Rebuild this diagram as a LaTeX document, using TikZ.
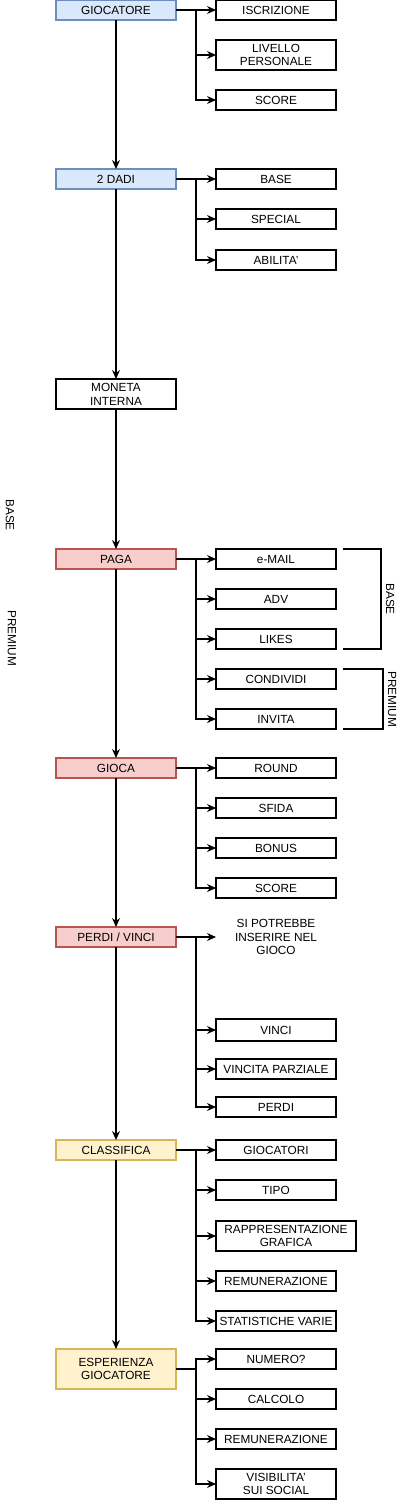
\documentclass[tikz,border=0pt]{standalone}
\usepackage{fontspec}
\setmainfont{Liberation Sans}
\usepackage{xcolor}
\usepackage{tikz}
\usetikzlibrary{arrows.meta, positioning}
\definecolor{blueFill}{HTML}{DAE8FC}
\definecolor{blueLine}{HTML}{6C8EBF}
\definecolor{redFill}{HTML}{F8CECC}
\definecolor{redLine}{HTML}{B85450}
\definecolor{yellowFill}{HTML}{FFF2CC}
\definecolor{yellowLine}{HTML}{D6B656}
\tikzstyle{mainbox} = [rectangle, minimum width=120pt, minimum height=20pt, inner xsep=1pt, inner ysep=2pt, outer sep=0pt, align=center, draw=black, line width=1.1pt, font=\fontsize{11.8}{13.8}\selectfont]
\tikzstyle{subbox} = [rectangle, minimum width=120pt, minimum height=20pt, inner xsep=1pt, inner ysep=2pt, outer sep=0pt, align=center, draw=black, line width=1.1pt, font=\fontsize{11.8}{13.8}\selectfont]
\tikzstyle{note} = [rectangle, minimum width=120pt, inner sep=2pt, outer sep=0pt, align=center, font=\fontsize{11.8}{13.8}\selectfont]
\tikzstyle{sidelabel} = [rotate=-90, inner sep=2pt, outer sep=0pt, font=\fontsize{11.8}{13.8}\selectfont]
\tikzstyle{arrow} = [line width=1.1pt, -{Stealth[length=9pt, width=8pt, inset=3pt]}]
\tikzstyle{bracket} = [line width=2.2pt]

\begin{document}
\begin{tikzpicture}
    \useasboundingbox (0,0) rectangle (403pt,-1501pt);

    % Main flow
    \node[mainbox, fill=blueFill, draw=blueLine] (giocatore) at (116pt,-10pt) {GIOCATORE};
    \node[mainbox, fill=blueFill, draw=blueLine, below=149pt of giocatore] (dadi) {2 DADI};
    \node[mainbox, minimum height=30pt, below=190pt of dadi] (moneta) {MONETA\\INTERNA};
    \node[mainbox, fill=redFill, draw=redLine, below=140pt of moneta] (paga) {PAGA};
    \node[mainbox, fill=redFill, draw=redLine, below=189pt of paga] (gioca) {GIOCA};
    \node[mainbox, fill=redFill, draw=redLine, below=149pt of gioca] (perdivinci) {PERDI / VINCI};
    \node[mainbox, fill=yellowFill, draw=yellowLine, below=193pt of perdivinci] (classifica) {CLASSIFICA};
    \node[mainbox, fill=yellowFill, draw=yellowLine, minimum height=40pt, below=189pt of classifica] (esperienza) {ESPERIENZA\\GIOCATORE};

    % Side labels
    \node[sidelabel] (leftbase) at (10pt,-515pt) {BASE};
    \node[sidelabel] (leftpremium) at (12pt,-638pt) {PREMIUM};

    % Giocatore
    \node[subbox, right=40pt of giocatore] (iscrizione) {ISCRIZIONE};
    \node[subbox, minimum height=30pt, below=20pt of iscrizione] (livello) {LIVELLO\\PERSONALE};
    \node[subbox, below=20pt of livello] (scoreA) {SCORE};

    % Dadi
    \node[subbox, right=40pt of dadi] (baseA) {BASE};
    \node[subbox, below=20pt of baseA] (special) {SPECIAL};
    \node[subbox, below=21pt of special] (abilita) {ABILITA'};

    % Paga
    \node[subbox, right=40pt of paga] (email) {e-MAIL};
    \node[subbox, below=20pt of email] (adv) {ADV};
    \node[subbox, below=20pt of adv] (likes) {LIKES};
    \node[subbox, below=20pt of likes] (condividi) {CONDIVIDI};
    \node[subbox, below=20pt of condividi] (invita) {INVITA};

    % Gioca
    \node[subbox, right=40pt of gioca] (round) {ROUND};
    \node[subbox, below=20pt of round] (sfida) {SFIDA};
    \node[subbox, below=20pt of sfida] (bonus) {BONUS};
    \node[subbox, below=20pt of bonus] (scoreB) {SCORE};

    % Perdi / Vinci
    \node[note, right=40pt of perdivinci] (inserire) {SI POTREBBE\\INSERIRE NEL\\GIOCO};
    \node[subbox, minimum height=22pt, right=40pt of perdivinci, yshift=-93pt] (vinci) {VINCI};
    \node[subbox, below=18pt of vinci] (parziale) {VINCITA PARZIALE};
    \node[subbox, below=18pt of parziale] (perdi) {PERDI};

    % Classifica
    \node[subbox, right=40pt of classifica] (giocatori) {GIOCATORI};
    \node[subbox, below=20pt of giocatori] (tipo) {TIPO};
    \node[subbox, minimum width=140pt, minimum height=30pt, below=21pt of tipo.south west, anchor=north west] (grafica) {RAPPRESENTAZIONE\\GRAFICA};
    \node[subbox, below=20pt of grafica.south west, anchor=north west] (remunerazioneA) {REMUNERAZIONE};
    \node[subbox, below=20pt of remunerazioneA] (statistiche) {STATISTICHE VARIE};

    % Esperienza
    \node[subbox, right=40pt of esperienza.north east, anchor=north west] (numero) {NUMERO?};
    \node[subbox, below=20pt of numero] (calcolo) {CALCOLO};
    \node[subbox, below=20pt of calcolo] (remunerazioneB) {REMUNERAZIONE};
    \node[subbox, minimum height=30pt, below=20pt of remunerazioneB] (visibilita) {VISIBILITA'\\SUI SOCIAL};

    % Connections
    \draw[arrow] (giocatore) -- (dadi);
    \draw[arrow] (dadi) -- (moneta);
    \draw[arrow] (moneta) -- (paga);
    \draw[arrow] (paga) -- (gioca);
    \draw[arrow] (gioca) -- (perdivinci);
    \draw[arrow] (perdivinci) -- (classifica);
    \draw[arrow] (classifica) -- (esperienza);

    % Branches
    \draw[arrow] (giocatore.east) -- ++(20pt,0) |- (iscrizione.west);
    \draw[arrow] (giocatore.east) -- ++(20pt,0) |- (livello.west);
    \draw[arrow] (giocatore.east) -- ++(20pt,0) |- (scoreA.west);
    \draw[arrow] (dadi.east) -- ++(20pt,0) |- (baseA.west);
    \draw[arrow] (dadi.east) -- ++(20pt,0) |- (special.west);
    \draw[arrow] (dadi.east) -- ++(20pt,0) |- (abilita.west);
    \draw[arrow] (paga.east) -- ++(20pt,0) |- (email.west);
    \draw[arrow] (paga.east) -- ++(20pt,0) |- (adv.west);
    \draw[arrow] (paga.east) -- ++(20pt,0) |- (likes.west);
    \draw[arrow] (paga.east) -- ++(20pt,0) |- (condividi.west);
    \draw[arrow] (paga.east) -- ++(20pt,0) |- (invita.west);
    \draw[arrow] (gioca.east) -- ++(20pt,0) |- (round.west);
    \draw[arrow] (gioca.east) -- ++(20pt,0) |- (sfida.west);
    \draw[arrow] (gioca.east) -- ++(20pt,0) |- (bonus.west);
    \draw[arrow] (gioca.east) -- ++(20pt,0) |- (scoreB.west);
    \draw[arrow] (perdivinci.east) -- ++(20pt,0) |- (inserire.west);
    \draw[arrow] (perdivinci.east) -- ++(20pt,0) |- (vinci.west);
    \draw[arrow] (perdivinci.east) -- ++(20pt,0) |- (parziale.west);
    \draw[arrow] (perdivinci.east) -- ++(20pt,0) |- (perdi.west);
    \draw[arrow] (classifica.east) -- ++(20pt,0) |- (giocatori.west);
    \draw[arrow] (classifica.east) -- ++(20pt,0) |- (tipo.west);
    \draw[arrow] (classifica.east) -- ++(20pt,0) |- (grafica.west);
    \draw[arrow] (classifica.east) -- ++(20pt,0) |- (remunerazioneA.west);
    \draw[arrow] (classifica.east) -- ++(20pt,0) |- (statistiche.west);
    \draw[arrow] (esperienza.east) -- ++(20pt,0) |- (numero.west);
    \draw[arrow] (esperienza.east) -- ++(20pt,0) |- (calcolo.west);
    \draw[arrow] (esperienza.east) -- ++(20pt,0) |- (remunerazioneB.west);
    \draw[arrow] (esperienza.east) -- ++(20pt,0) |- (visibilita.west);

    % Brackets
    \draw[bracket] ([xshift=7pt]email.north east) -- ([xshift=45pt]email.north east)
        -- node[sidelabel, anchor=south, inner sep=5pt] (rightbase) {BASE} ([xshift=45pt]likes.south east)
        -- ([xshift=7pt]likes.south east);
    \draw[bracket] ([xshift=7pt]condividi.north east) -- ([xshift=47pt]condividi.north east)
        -- node[sidelabel, anchor=south, inner sep=5pt] (rightpremium) {PREMIUM} ([xshift=47pt]invita.south east)
        -- ([xshift=7pt]invita.south east);

\end{tikzpicture}
\end{document}
